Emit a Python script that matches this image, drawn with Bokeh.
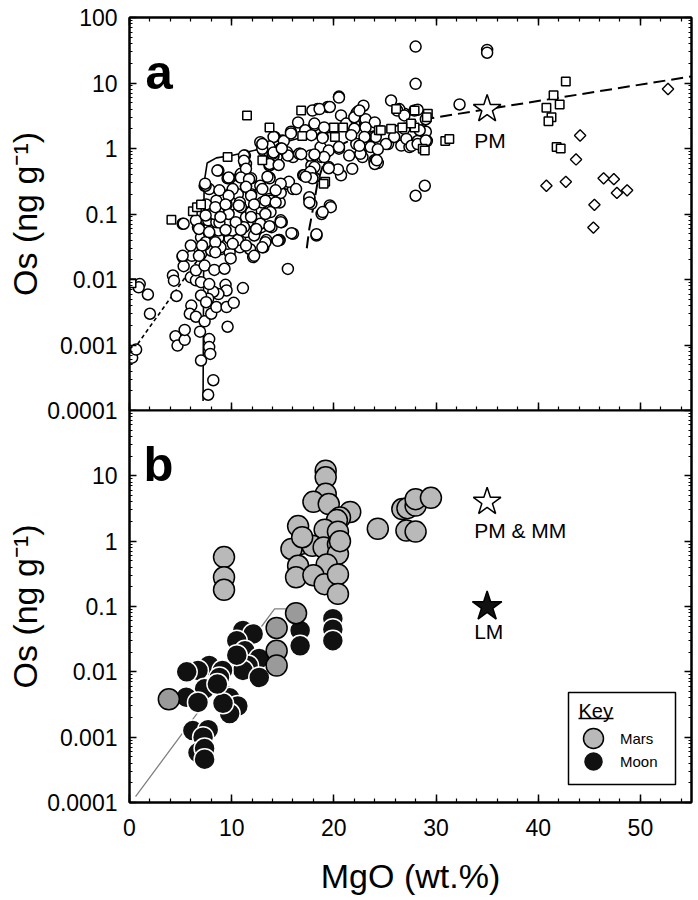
from bokeh.plotting import figure
from bokeh.models import (Range1d, LogAxis, LinearAxis, FixedTicker, SingleIntervalTicker,
                          CustomJSTickFormatter, Label, Legend, LegendItem, BoxAnnotation, Arrow)
from bokeh.layouts import column
from bokeh.embed import file_html
from bokeh.resources import INLINE

FONT = "Liberation Sans"

# ---------------- panel a data (MgO wt.%, Os ng/g) ----------------
a_circ_mgo = [0.26, 0.65, 1.0, 0.9, 1.8, 2.0,
    4.25, 4.35, 4.6, 4.5, 4.7, 5.4, 5.4, 5.2, 5.3, 6.1, 6.0, 6.05, 5.9, 6.5, 6.9, 7.0, 7.8, 7.8, 7.9, 8.2, 7.7,
    7.35, 8.0, 8.5, 9.5, 10.2, 9.6, 11.1, 9.4, 9.5, 8.7, 8.2, 7.7, 7.0, 7.5, 6.5, 7.0, 7.8, 6.5, 7.35, 8.3, 9.3,
    7.0, 8.0, 9.0, 9.8, 10.8, 12.1, 11.8, 7.35, 8.5, 9.6, 7.0, 8.0, 8.7, 9.8, 10.8, 6.7, 7.7, 8.7, 9.5, 10.6,
    11.4, 12.4, 5.2, 6.5, 7.7, 8.5, 9.6, 10.5, 11.6, 12.9, 13.9, 14.9, 16.0, 14.7, 13.4, 13.1, 15.5, 18.3, 18.8,
    7.35, 8.7, 11.3, 11.3, 9.8, 10.8, 11.6, 9.8, 10.6, 11.4, 12.6, 13.7, 13.7, 14.4, 13.1, 15.4, 16.0, 14.4,
    13.7, 14.7, 8.5, 9.5, 10.8, 11.9, 12.9, 7.7, 8.7, 10.5, 11.4, 12.4, 7.8, 8.8, 7.5, 17.0, 17.6, 17.8, 18.1,
    19.6, 16.0, 16.7, 17.8, 17.8, 18.8,
    18.4, 19.4, 20.5, 22.9, 22.2, 20.7, 16.5, 18.1, 23.0, 15.8, 17.2, 18.9, 22.0, 24.1, 12.9, 14.2, 14.96, 13.7,
    14.5, 15.4, 16.6, 17.7, 18.7, 19.5, 20.5, 21.5, 22.6, 23.3, 25.3, 26.6, 27.4, 25.9, 26.9, 27.9, 25.6, 28.0,
    28.0, 28.9, 21.8, 23.96, 24.3, 19.5, 20.7, 18.1, 17.1, 17.9, 19.7, 18.9, 17.6, 17.6, 18.3, 15.85, 14.6, 13.3,
    15.6, 16.3, 14.8, 13.7, 14.8, 12.8, 11.9, 10.9, 9.6, 8.6, 7.45, 11.2, 11.4, 8.3, 9.7, 10.9, 11.9, 13.0, 13.8,
    11.9, 13.8, 14.8, 12.8, 11.2, 10.06, 7.8, 8.8, 12.2, 10.6, 8.9, 7.45,
    32.3, 22.3, 26.4, 28.2, 29.0, 23.1, 24.0, 22.0, 26.9, 28.7, 29.0, 22.3, 23.1, 27.1, 28.2, 29.1, 25.1, 27.6,
    22.2, 23.6, 24.3, 22.8, 24.1, 28.0, 35.0, 35.0, 22.6, 28.2, 29.0, 21.2, 22.0, 22.5, 26.2, 26.9, 28.4, 24.0,
    24.2,
    18.1, 19.05, 22.0, 23.1, 17.8, 21.7, 23.0, 12.8, 14.1, 15.1, 18.9, 20.5, 22.5, 19.05, 18.1, 16.8, 15.5, 14.1,
    13.7, 14.8, 20.4, 19.5, 17.7, 17.9, 17.25,
    7.4, 11.2, 11.4, 9.7, 10.9, 11.7, 10.1, 11.4, 13.0, 14.0, 13.7, 13.5, 14.6, 13.0, 14.3, 9.7, 11.9, 8.4, 9.4,
    10.7, 12.2, 13.3, 14.3, 7.45, 8.9, 10.4, 11.9, 13.3, 14.8, 5.3, 6.8, 7.8, 9.4, 10.9, 12.4, 13.7, 6.0, 7.1,
    8.4, 10.1, 11.4, 13.0, 14.5, 5.2, 6.8, 8.4, 9.9, 12.2,
    13.0, 14.1, 14.9, 15.8, 17.9, 18.6, 19.6, 20.5]
a_circ_os = [0.00064, 0.00085, 0.0085, 0.0076, 0.0059, 0.0030,
    0.0115, 0.0096, 0.0056, 0.00136, 0.00098, 0.0012, 0.0017, 0.022, 0.016, 0.023, 0.0108, 0.0040, 0.0030,
    0.0027, 0.0016, 0.00058, 0.00123, 0.00093, 0.00073, 0.00029, 0.000174,
    0.0023, 0.0030, 0.0038, 0.0038, 0.0044, 0.0019, 0.0074, 0.0083, 0.0068, 0.0060, 0.0065, 0.0051, 0.0057,
    0.0045, 0.0097, 0.0091, 0.0085, 0.0138, 0.0163, 0.014, 0.0146,
    0.0245, 0.0275, 0.0293, 0.026, 0.031, 0.022, 0.029, 0.034, 0.035, 0.035, 0.044, 0.042, 0.043, 0.042, 0.042,
    0.063, 0.059, 0.056, 0.056, 0.053, 0.053, 0.056, 0.071, 0.080, 0.080, 0.075, 0.075, 0.080, 0.075, 0.063,
    0.063, 0.075, 0.050, 0.040, 0.040, 0.031, 0.0145, 0.047, 0.10,
    0.27, 0.46, 0.78, 0.58, 0.35, 0.37, 0.35, 0.20, 0.20, 0.26, 0.20, 0.55, 0.36, 0.74, 0.93, 0.29, 0.24, 0.19,
    0.17, 0.15, 0.16, 0.14, 0.15, 0.11, 0.11, 0.10, 0.107, 0.10, 0.089, 0.085, 0.24, 0.23, 0.14, 0.39, 0.17,
    0.143, 0.36, 0.135, 0.74, 0.83, 0.74, 0.55, 0.74,
    4.0, 4.3, 6.2, 4.5, 3.4, 3.2, 2.5, 2.25, 2.1, 1.8, 1.9, 1.5, 1.6, 1.5, 1.17, 1.5, 1.32, 0.88,
    1.07, 0.88, 0.83, 0.78, 1.05, 0.93, 0.995, 0.78, 0.83, 1.11, 1.17, 1.11, 1.05, 1.5, 3.4, 3.8, 5.4, 9.7,
    0.19, 0.27, 0.49, 0.66, 0.6, 0.52, 0.39, 0.52, 0.39, 0.36, 0.127, 0.107, 0.18, 0.15, 0.049, 0.051, 0.040,
    0.037, 0.31, 0.24, 0.21, 0.35, 0.29, 0.27, 0.35, 0.41, 0.35, 0.46, 0.27, 0.78, 0.58, 0.10, 0.10, 0.127,
    0.20, 0.15, 0.16, 0.107, 0.107, 0.08, 0.071, 0.063, 0.056, 0.05, 0.074, 0.047, 0.040, 0.031, 0.037,
    4.7, 3.6, 4.0, 3.9, 2.8, 2.8, 2.5, 2.35, 2.0, 1.9, 1.8, 1.7, 1.5, 1.4, 1.3, 1.3, 1.17, 1.1,
    1.17, 1.05, 0.97, 0.74, 0.66, 36.0, 32.0, 29.0, 0.83, 1.17, 1.32, 2.4, 3.0, 3.8, 3.8, 3.2, 1.9, 0.58,
    0.66,
    2.4, 2.1, 2.0, 2.1, 1.6, 1.6, 1.5, 1.25, 1.5, 1.3, 1.45, 1.05, 1.1, 0.74, 0.81, 0.82, 0.78, 0.78,
    1.07, 1.0, 0.48, 0.5, 0.44, 0.35, 0.37,
    0.29, 0.65, 0.49, 0.36, 0.36, 0.34, 0.24, 0.26, 0.99, 0.83, 0.58, 0.37, 0.56, 0.24, 0.23, 0.19, 0.19, 0.127,
    0.14, 0.135, 0.14, 0.16, 0.15, 0.095, 0.09, 0.075, 0.09, 0.1, 0.075, 0.071, 0.059, 0.053, 0.057, 0.057,
    0.059, 0.065, 0.033, 0.033, 0.037, 0.035, 0.033, 0.031, 0.039, 0.023, 0.023, 0.026, 0.021, 0.023,
    1.17, 0.87, 1.0, 1.7, 3.8, 4.0, 4.3, 6.0]

a_sq_mgo = [0.2, 4.1, 6.2, 6.6, 7.0, 9.6, 11.5, 13.7, 16.8, 16.9, 20.0, 20.9, 24.4, 20.1, 19.15, 13.0, 19.0,
            26.1, 29.2, 25.6, 27.9, 28.7, 24.6, 27.9, 29.1, 27.55, 26.7, 28.9, 30.9, 31.3,
            42.7, 41.5, 42.1, 40.8, 41.3, 41.0, 41.8, 42.2]
a_sq_os = [0.0088, 0.082, 0.11, 0.127, 0.14, 0.74, 3.2, 2.1, 3.8, 1.55, 2.1, 2.1, 1.9, 1.5, 0.31, 0.66, 0.29,
           4.0, 3.4, 2.0, 2.1, 0.99, 1.9, 3.8, 3.0, 2.4, 2.1, 0.93, 1.3, 1.4,
           10.5, 6.5, 4.7, 4.2, 3.0, 2.6, 1.05, 1.0]

a_dia_mgo = [52.7, 44.1, 43.7, 40.8, 42.7, 46.4, 47.4, 47.7, 48.7, 45.5, 45.4]
a_dia_os = [8.1, 1.58, 0.68, 0.27, 0.31, 0.35, 0.34, 0.21, 0.23, 0.138, 0.062]

# model curves in panel a
a_short_mgo = [0.4, 8.5]
a_short_os = [0.00085, 0.05]
a_solid_mgo = [7.2, 7.25, 7.3, 7.6, 8.5, 10.0, 13.0, 17.0, 20.0]
a_solid_os = [0.00014, 0.01, 0.3, 0.6, 0.72, 0.78, 1.0, 1.5, 1.8]
a_long_mgo = [17.35, 17.6, 18.0, 18.4, 19.0, 20.5, 23.0, 26.5, 29.5, 55.0]
a_long_os = [0.03, 0.06, 0.13, 0.3, 0.6, 1.1, 1.7, 2.3, 2.9, 12.6]

pm_mgo = [35.0]
pm_os = [4.0]

# ---------------- panel b data ----------------
mars_mgo = [9.25, 9.25, 9.25, 19.2, 19.2, 19.2, 18.0, 19.5, 21.6, 20.6, 20.3, 16.5, 19.1, 20.4, 16.7, 15.85,
            17.9, 19.0, 20.4, 20.4, 16.5, 19.3, 16.3, 18.0, 19.1, 20.4, 20.4, 24.3, 27.1, 28.0, 26.7, 27.2,
            28.0, 28.0, 29.5, 20.6, 16.9]
mars_os = [0.57, 0.28, 0.18, 12.0, 9.5, 5.3, 4.0, 3.7, 2.8, 2.3, 2.1, 1.7, 1.5, 1.4, 0.9, 0.76,
           0.85, 0.8, 0.9, 0.64, 0.42, 0.44, 0.28, 0.3, 0.22, 0.31, 0.156, 1.55, 1.45, 1.4, 3.1, 3.2,
           3.5, 4.4, 4.6, 1.0, 1.15]
mars2_mgo = [16.3, 14.4, 14.4, 14.4, 3.85]
mars2_os = [0.079, 0.047, 0.021, 0.0125, 0.0038]

moon_mgo = [16.7, 16.7, 19.9, 19.9, 19.9, 11.1, 12.1, 10.5, 11.3, 12.7, 11.6, 11.1, 12.7, 7.8, 6.7, 5.6, 9.1,
            8.8, 7.35, 5.55, 6.7, 9.5, 9.8, 10.6, 9.8, 9.15, 6.2, 7.7, 7.2, 6.7, 7.35, 7.35, 10.5, 8.6]
moon_os = [0.043, 0.025, 0.065, 0.045, 0.03, 0.043, 0.038, 0.03, 0.021, 0.016, 0.0125, 0.0105, 0.0082, 0.0125,
           0.0105, 0.010, 0.0105, 0.0082, 0.0055, 0.0041, 0.0034, 0.0043, 0.004, 0.003, 0.0023, 0.0033, 0.00126,
           0.0013, 0.001, 0.00058, 0.00067, 0.00046, 0.018, 0.0065]

b_line_mgo = [0.59, 14.2, 15.8]
b_line_os = [0.000123, 0.092, 0.092]

lm_mgo = [35.0]
lm_os = [0.1]

decades = [1e-4, 1e-3, 1e-2, 1e-1, 1.0, 10.0, 100.0]
minor_log = [m * 10.0 ** e for e in range(-4, 2) for m in range(2, 10)]

fmt = CustomJSTickFormatter(code="""
const v = Number(tick.toPrecision(1));
return v >= 1 ? String(Math.round(v)) : String(v);
""")


def blank_fmt():
    return CustomJSTickFormatter(code="return '';")


def style_axis(ax, labels=True, major_in=8, minor_in=4):
    ax.axis_line_width = 2
    ax.axis_line_color = "black"
    ax.major_tick_in = major_in
    ax.major_tick_out = 0
    ax.minor_tick_in = minor_in
    ax.minor_tick_out = 0
    ax.major_tick_line_width = 1.5
    ax.minor_tick_line_width = 1.2
    ax.major_tick_line_color = "black"
    ax.minor_tick_line_color = "black"
    if labels:
        ax.major_label_text_font = FONT
        ax.major_label_text_font_size = "23px"
        ax.major_label_text_color = "black"
        ax.major_label_standoff = 12
    else:
        ax.formatter = blank_fmt()
        ax.major_label_text_font_size = "1px"
        ax.major_label_standoff = 0


def xticker():
    return SingleIntervalTicker(interval=10, num_minor_ticks=5)


def base_fig(height, bottom, top, yticks):
    p = figure(width=698, height=height, x_range=Range1d(0, 55), y_range=Range1d(1e-4, 100),
               y_axis_type="log", output_backend="svg", toolbar_location=None,
               min_border_left=129, min_border_right=7, min_border_top=top, min_border_bottom=bottom)
    p.grid.visible = False
    p.outline_line_color = "black"
    p.outline_line_width = 2
    p.background_fill_color = "white"
    p.border_fill_color = "white"
    ly = p.left[0]
    ly.ticker = FixedTicker(ticks=yticks, minor_ticks=minor_log)
    ly.formatter = fmt
    style_axis(ly, labels=True, major_in=7, minor_in=3)
    ly.axis_label = "Os (ng g\u207b\u00b9)"
    ly.axis_label_text_font = FONT
    ly.axis_label_text_font_size = "34px"
    ly.axis_label_text_font_style = "normal"
    ly.axis_label_text_color = "black"
    ly.axis_label_standoff = 0
    ry = LogAxis(ticker=FixedTicker(ticks=decades, minor_ticks=minor_log))
    style_axis(ry, labels=False, major_in=7, minor_in=3)
    p.add_layout(ry, "right")
    bx = p.below[0]
    bx.ticker = xticker()
    return p


# ---------------- panel a ----------------
p1 = base_fig(424, 14, 17, decades)
style_axis(p1.below[0], labels=False)
tx = LinearAxis(ticker=xticker())
style_axis(tx, labels=False)
p1.add_layout(tx, "above")

p1.line(a_short_mgo, a_short_os, line_color="black", line_width=1.6, line_dash="4 3")
p1.line(a_solid_mgo, a_solid_os, line_color="black", line_width=1.6)
p1.line(a_long_mgo, a_long_os, line_color="black", line_width=2, line_dash="12 6")

p1.scatter(a_circ_mgo, a_circ_os, marker="circle", size=11, fill_color="white",
           line_color="black", line_width=1.5)
p1.scatter(a_sq_mgo, a_sq_os, marker="square", size=8.5, fill_color="white",
           line_color="black", line_width=1.5)
p1.scatter(a_dia_mgo, a_dia_os, marker="square", angle=0.785398, size=8, fill_color="white",
           line_color="black", line_width=1.4)
p1.scatter(pm_mgo, pm_os, marker="star", size=29, fill_color="white", line_color="black", line_width=1.5)
p1.add_layout(Label(x=pm_mgo[0], y=pm_os[0], text="PM", x_offset=-13, y_offset=-31,
                    text_align="left", text_baseline="middle", text_font=FONT,
                    text_font_size="21px", text_color="black"))
p1.add_layout(Label(x=16, y=339, x_units="screen", y_units="screen", text="a",
                    text_font=FONT, text_font_size="49px", text_font_style="bold",
                    text_baseline="alphabetic", text_color="black"))

# ---------------- panel b ----------------
p2 = base_fig(490, 98, 0, decades[:-1])
p2.border_fill_alpha = 0
p2.styles = {"margin-top": "-14px"}
bx = p2.below[0]
style_axis(bx, labels=True)
bx.major_label_standoff = 16
bx.axis_label = "MgO (wt.%)"
bx.axis_label_text_font = FONT
bx.axis_label_text_font_size = "34px"
bx.axis_label_text_font_style = "normal"
bx.axis_label_text_color = "black"
bx.axis_label_standoff = 18

p2.line(b_line_mgo, b_line_os, line_color="#808080", line_width=1.3)
r_moon = p2.scatter(moon_mgo, moon_os, marker="circle", size=21, fill_color="#111111",
                    line_color="white", line_width=1.5)
r_mars = p2.scatter(mars_mgo, mars_os, marker="circle", size=21, fill_color="#b9b9b9",
                    line_color="black", line_width=1.5)
p2.scatter(mars2_mgo, mars2_os, marker="circle", size=21, fill_color="#9a9a9a",
           line_color="black", line_width=1.5)
p2.scatter(pm_mgo, pm_os, marker="star", size=29, fill_color="white", line_color="black", line_width=1.5)
p2.scatter(lm_mgo, lm_os, marker="star", size=31, fill_color="#111111", line_color="black", line_width=1.5)
p2.add_layout(Label(x=pm_mgo[0], y=pm_os[0], text="PM & MM", x_offset=-13, y_offset=-29,
                    text_align="left", text_baseline="middle", text_font=FONT,
                    text_font_size="21px", text_color="black"))
p2.add_layout(Label(x=lm_mgo[0], y=lm_os[0], text="LM", x_offset=-13, y_offset=-25,
                    text_align="left", text_baseline="middle", text_font=FONT,
                    text_font_size="21px", text_color="black"))
p2.add_layout(Label(x=14, y=339, x_units="screen", y_units="screen", text="b",
                    text_font=FONT, text_font_size="49px", text_font_style="bold",
                    text_baseline="alphabetic", text_color="black"))

# key box
p2.add_layout(BoxAnnotation(left=439, right=546, bottom=18, top=110, left_units="screen",
                            right_units="screen", bottom_units="screen", top_units="screen",
                            fill_alpha=0, line_color="black", line_alpha=1.0, line_width=1.5))
p2.add_layout(Label(x=449, y=92, x_units="screen", y_units="screen", text="Key",
                    text_font=FONT, text_font_size="20px", text_baseline="alphabetic",
                    text_color="black"))
p2.add_layout(Arrow(x_start=449, y_start=84, x_end=484, y_end=84, start_units="screen",
                    end_units="screen", start=None, end=None, line_width=1.5, line_color="black"))
for lab, rend, ypos in (("Mars", r_mars, 39), ("Moon", r_moon, 16)):
    p2.add_layout(Legend(items=[LegendItem(label=lab, renderers=[rend])],
                         location=(439, ypos), glyph_width=50, glyph_height=50, padding=0,
                         margin=0, label_standoff=2, label_text_font=FONT,
                         label_text_font_size="15px", label_text_color="black",
                         border_line_color=None, background_fill_alpha=0))

layout = column(p1, p2)
open("out.html", "w").write(file_html(layout, INLINE))
